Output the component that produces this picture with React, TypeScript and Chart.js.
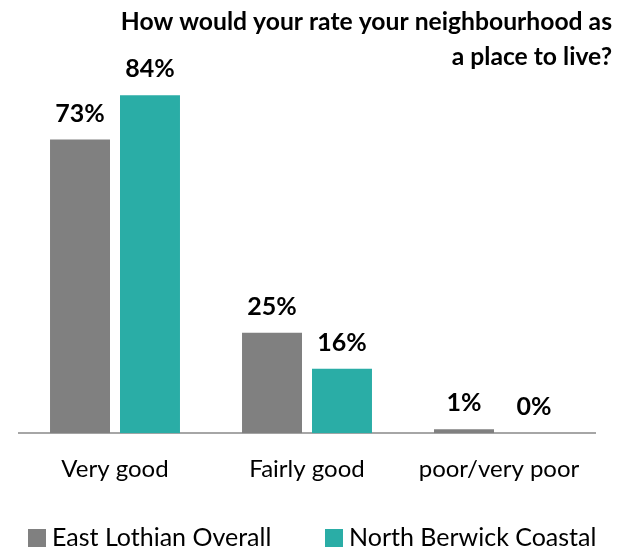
import React, { useEffect, useRef } from "react";
import { Chart, registerables } from "chart.js";

Chart.register(...registerables);

const categories = ["Very good", "Fairly good", "poor/very poor"];
const eastLothian = [73, 25, 1];
const northBerwick = [84, 16, 0];
const seriesNames = ["East Lothian Overall", "North Berwick Coastal"];
const seriesColors = ["#808080", "#2AADA6"];
const titleLines = ["How would your rate your neighbourhood as", "a place to live?"];

const FONT = "Lato, 'Open Sans', sans-serif";

const labelPlugin = {
  id: "valueLabels",
  afterDatasetsDraw(chart: any) {
    const ctx = chart.ctx;
    ctx.save();
    ctx.font = `bold 25px ${FONT}`;
    ctx.fillStyle = "#000";
    ctx.textAlign = "center";
    ctx.textBaseline = "middle";
    chart.data.datasets.forEach((ds: any, i: number) => {
      const meta = chart.getDatasetMeta(i);
      meta.data.forEach((bar: any, j: number) => {
        ctx.fillText(`${ds.data[j]}%`, bar.x, bar.y - 26);
      });
    });
    ctx.restore();
  },
};

const titlePlugin = {
  id: "rightTitle",
  afterDraw(chart: any) {
    const ctx = chart.ctx;
    ctx.save();
    ctx.font = `bold 24.7px ${FONT}`;
    ctx.fillStyle = "#000";
    ctx.textAlign = "right";
    ctx.textBaseline = "middle";
    ctx.fillText(titleLines[0], 612, 22);
    ctx.fillText(titleLines[1], 612, 57);
    ctx.restore();
  },
};

const legendPlugin = {
  id: "customLegend",
  afterDraw(chart: any) {
    const ctx = chart.ctx;
    ctx.save();
    ctx.font = `25px ${FONT}`;
    ctx.textAlign = "left";
    ctx.textBaseline = "middle";
    const starts = [28, 325];
    const y = 538;
    chart.data.datasets.forEach((ds: any, i: number) => {
      const x = starts[i];
      ctx.fillStyle = ds.backgroundColor;
      ctx.fillRect(x, y - 9, 18, 18);
      ctx.fillStyle = "#000";
      ctx.fillText(ds.label, x + 24, y);
    });
    ctx.restore();
  },
};

export default function App() {
  const ref = useRef<HTMLCanvasElement | null>(null);
  useEffect(() => {
    if (!ref.current) return;
    const chart = new Chart(ref.current, {
      type: "bar",
      data: {
        labels: categories,
        datasets: [
          {
            label: seriesNames[0],
            data: eastLothian,
            backgroundColor: seriesColors[0],
            barPercentage: 0.857,
            categoryPercentage: 0.729,
          },
          {
            label: seriesNames[1],
            data: northBerwick,
            backgroundColor: seriesColors[1],
            barPercentage: 0.857,
            categoryPercentage: 0.729,
          },
        ],
      },
      options: {
        animation: false,
        responsive: false,
        maintainAspectRatio: false,
        layout: { padding: { top: 31, left: 19, right: 28, bottom: 46 } },
        scales: {
          y: { display: false, min: 0, max: 100 },
          x: {
            grid: { display: false, drawTicks: false },
            border: { display: true, color: "#A6A6A6", width: 2 },
            ticks: {
              color: "#000",
              font: { family: FONT, size: 24 },
              padding: 22,
            },
          },
        },
        plugins: {
          title: { display: false },
          tooltip: { enabled: false },
          legend: { display: false },
        },
      },
      plugins: [labelPlugin, titlePlugin, legendPlugin],
    });
    return () => chart.destroy();
  }, []);
  return (
    <div style={{ position: "fixed", left: 0, top: 0, width: 623, height: 552, background: "#fff" }}>
      <canvas ref={ref} width={623} height={552} style={{ width: 623, height: 552 }} />
    </div>
  );
}
